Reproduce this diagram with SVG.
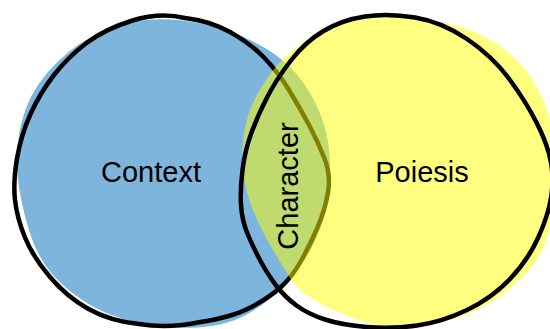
<svg xmlns="http://www.w3.org/2000/svg" width="550" height="329" viewBox="0 0 550 329">
<style>
.outline{fill:none;stroke:#000;stroke-width:4.5;stroke-linejoin:round}
.lbl{font-family:"Liberation Sans",Arial,sans-serif;font-size:29px;fill:#000;text-anchor:middle}
</style>
<rect width="550" height="329" fill="#fff"/>
<g id="context">
<path fill="#7EB5DD" d="M17.5,175 Q15,150 21.5,122.5 Q28,95 47.5,72.5 Q67,50 91,37 Q115,24 141,20.5 Q167,17 196,22.5 Q225,28 250,40 Q275,52 290,67 Q305,82 315,102 Q325,122 328.5,145 Q332,168 327,199 Q322,230 311,249 Q300,268 282.5,286.5 Q265,305 245,315.5 Q225,326 197.5,327.5 Q170,329 140,323 Q110,317 88.5,304 Q67,291 52,274 Q37,257 28.5,228.5 Q20,200 17.5,175 Z"/>
<path class="outline" d="M15,200 Q13,182 17,158.5 Q21,135 30.5,114 Q40,93 54,75 Q68,57 86.5,43 Q105,29 132.5,20.5 Q160,12 185,18 Q210,21 230,32 Q250,43 264,57.5 Q278,72 289,90 Q300,108 309,125 Q318,142 324.5,158.5 Q331,175 328,192.5 Q325,210 317.5,227.5 Q310,245 301,261 Q292,277 281,287 Q270,297 251.5,307 Q233,317 200.5,322 Q168,329 139,324 Q110,321 88.5,309 Q67,297 50,277 Q33,257 25,237.5 Q17,218 15,200 Z"/>
<text class="lbl" x="151" y="182">Context</text>
</g>
<g id="poiesis">
<path fill="#FFFF00" fill-opacity="0.5" d="M243,170 Q241,150 244.5,131 Q248,112 255,98.5 Q262,85 272.5,71 Q283,57 301.5,43.5 Q320,30 345,23.5 Q370,17 397.5,17 Q425,17 452.5,24.5 Q480,32 500,46 Q520,60 532.5,80 Q545,100 551.5,125 Q558,150 557,175 Q556,200 550.5,225 Q545,250 532.5,266 Q520,282 497.5,298 Q475,314 445,321.5 Q415,329 392.5,327 Q370,325 347.5,316 Q325,307 310.5,297.5 Q296,288 288,275 Q280,262 270,245 Q260,228 252.5,209 Q245,190 243,170 Z"/>
<path class="outline" d="M241,205 Q240,190 242.5,170 Q245,150 251.5,132.5 Q258,115 267,97.5 Q276,80 290.5,61 Q305,42 323.5,31 Q342,20 365,16.5 Q388,13 415,17.5 Q442,22 467,39 Q492,56 508.5,78 Q525,100 536.5,122.5 Q548,145 551,162.5 Q554,180 551,198 Q548,216 538,238 Q528,260 510,279 Q492,298 467,310 Q442,322 417,325.5 Q392,329 367,327 Q342,325 325,319.5 Q308,314 296.5,305.5 Q285,297 276.5,286 Q268,275 260,260 Q252,245 247,232.5 Q242,220 241,205 Z"/>
<text class="lbl" x="422" y="182">Poiesis</text>
</g>
<g id="character">
<text class="lbl" transform="translate(298,186) rotate(-90)">Character</text>
</g>
</svg>
